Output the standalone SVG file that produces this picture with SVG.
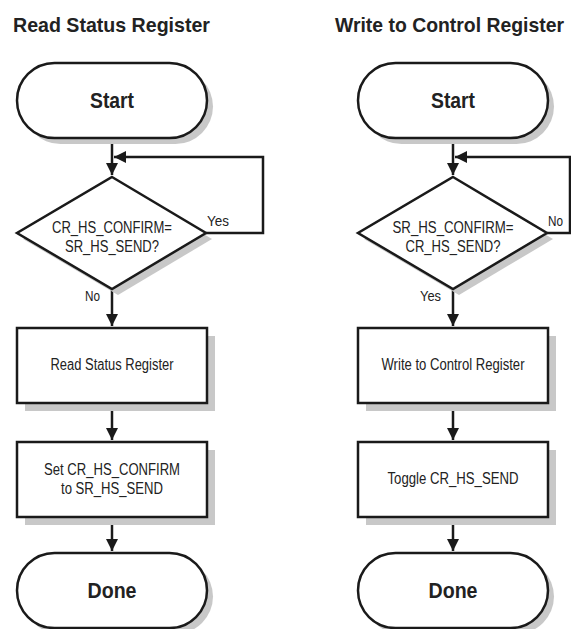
<svg xmlns="http://www.w3.org/2000/svg" width="571" height="629" viewBox="0 0 571 629">
<defs>
<marker id="ah" viewBox="0 0 12 16" refX="12" refY="8" markerWidth="12" markerHeight="16" markerUnits="userSpaceOnUse" orient="auto">
<path d="M0,2 L12,8 L0,14 Z" fill="#1a1a1a"/>
</marker>
</defs>
<style>
.sh{fill:#c8c8c8;stroke:none}
.nd{fill:#fff;stroke:#1a1a1a;stroke-width:2.5}
.cn{fill:none;stroke:#1a1a1a;stroke-width:2.5}
.t{font-family:"Liberation Sans",Arial,sans-serif;fill:#222}
.title{font-size:19.3px;font-weight:bold}
.term{font-size:22px;font-weight:bold;text-anchor:middle}
.lbl{font-size:16px;text-anchor:middle}
.yn{font-size:15px}
</style>
<text class="t title" x="13" y="32" textLength="197" lengthAdjust="spacingAndGlyphs">Read Status Register</text>
<text class="t title" x="335" y="32" textLength="229" lengthAdjust="spacingAndGlyphs">Write to Control Register</text>

<g id="connectors">
<path class="cn" d="M112,138 V175" marker-end="url(#ah)"/>
<path class="cn" d="M206,233 H263 V157 H114" marker-end="url(#ah)"/>
<path class="cn" d="M112,289 V326" marker-end="url(#ah)"/>
<path class="cn" d="M112,403 V440" marker-end="url(#ah)"/>
<path class="cn" d="M112,517 V551" marker-end="url(#ah)"/>
<path class="cn" d="M453,138 V175" marker-end="url(#ah)"/>
<path class="cn" d="M547,233 H570 V157 H455" marker-end="url(#ah)"/>
<path class="cn" d="M453,289 V326" marker-end="url(#ah)"/>
<path class="cn" d="M453,403 V440" marker-end="url(#ah)"/>
<path class="cn" d="M453,517 V551" marker-end="url(#ah)"/>
<text class="t yn" x="207" y="226" textLength="22" lengthAdjust="spacingAndGlyphs">Yes</text>
<text class="t yn" x="85" y="301" textLength="15" lengthAdjust="spacingAndGlyphs">No</text>
<text class="t yn" x="548" y="226" textLength="15" lengthAdjust="spacingAndGlyphs">No</text>
<text class="t yn" x="420" y="301" textLength="21" lengthAdjust="spacingAndGlyphs">Yes</text>
</g>

<g id="l-start">
<rect class="sh" x="23" y="69" width="190" height="75" rx="37.5"/>
<rect class="nd" x="17" y="63" width="190" height="75" rx="37.5"/>
<text class="t term" x="112" y="108" textLength="44" lengthAdjust="spacingAndGlyphs">Start</text>
</g>
<g id="l-decision">
<path class="sh" d="M118,183 L212,239 L118,295 L23,239 Z"/>
<path class="nd" d="M112,177 L206,233 L112,289 L17,233 Z"/>
<text class="t lbl" x="112" y="233" textLength="120" lengthAdjust="spacingAndGlyphs">CR_HS_CONFIRM=</text>
<text class="t lbl" x="112" y="252" textLength="94" lengthAdjust="spacingAndGlyphs">SR_HS_SEND?</text>
</g>
<g id="l-read">
<rect class="sh" x="25" y="336" width="190" height="75"/>
<rect class="nd" x="17" y="328" width="190" height="75"/>
<text class="t lbl" x="112" y="370" textLength="123" lengthAdjust="spacingAndGlyphs">Read Status Register</text>
</g>
<g id="l-set">
<rect class="sh" x="25" y="450" width="190" height="75"/>
<rect class="nd" x="17" y="442" width="190" height="75"/>
<text class="t lbl" x="112" y="475" textLength="136" lengthAdjust="spacingAndGlyphs">Set CR_HS_CONFIRM</text>
<text class="t lbl" x="112" y="494" textLength="102" lengthAdjust="spacingAndGlyphs">to SR_HS_SEND</text>
</g>
<g id="l-done">
<rect class="sh" x="23" y="559" width="190" height="75" rx="37.5"/>
<rect class="nd" x="17" y="553" width="190" height="75" rx="37.5"/>
<text class="t term" x="112" y="598" textLength="49" lengthAdjust="spacingAndGlyphs">Done</text>
</g>

<g id="r-start">
<rect class="sh" x="364" y="69" width="190" height="75" rx="37.5"/>
<rect class="nd" x="358" y="63" width="190" height="75" rx="37.5"/>
<text class="t term" x="453" y="108" textLength="44" lengthAdjust="spacingAndGlyphs">Start</text>
</g>
<g id="r-decision">
<path class="sh" d="M459,183 L553,239 L459,295 L364,239 Z"/>
<path class="nd" d="M453,177 L547,233 L453,289 L358,233 Z"/>
<text class="t lbl" x="453" y="233" textLength="121" lengthAdjust="spacingAndGlyphs">SR_HS_CONFIRM=</text>
<text class="t lbl" x="453" y="252" textLength="95" lengthAdjust="spacingAndGlyphs">CR_HS_SEND?</text>
</g>
<g id="r-write">
<rect class="sh" x="366" y="336" width="190" height="75"/>
<rect class="nd" x="358" y="328" width="190" height="75"/>
<text class="t lbl" x="453" y="370" textLength="143" lengthAdjust="spacingAndGlyphs">Write to Control Register</text>
</g>
<g id="r-toggle">
<rect class="sh" x="366" y="450" width="190" height="75"/>
<rect class="nd" x="358" y="442" width="190" height="75"/>
<text class="t lbl" x="453" y="484" textLength="131" lengthAdjust="spacingAndGlyphs">Toggle CR_HS_SEND</text>
</g>
<g id="r-done">
<rect class="sh" x="364" y="559" width="190" height="75" rx="37.5"/>
<rect class="nd" x="358" y="553" width="190" height="75" rx="37.5"/>
<text class="t term" x="453" y="598" textLength="49" lengthAdjust="spacingAndGlyphs">Done</text>
</g>
</svg>
